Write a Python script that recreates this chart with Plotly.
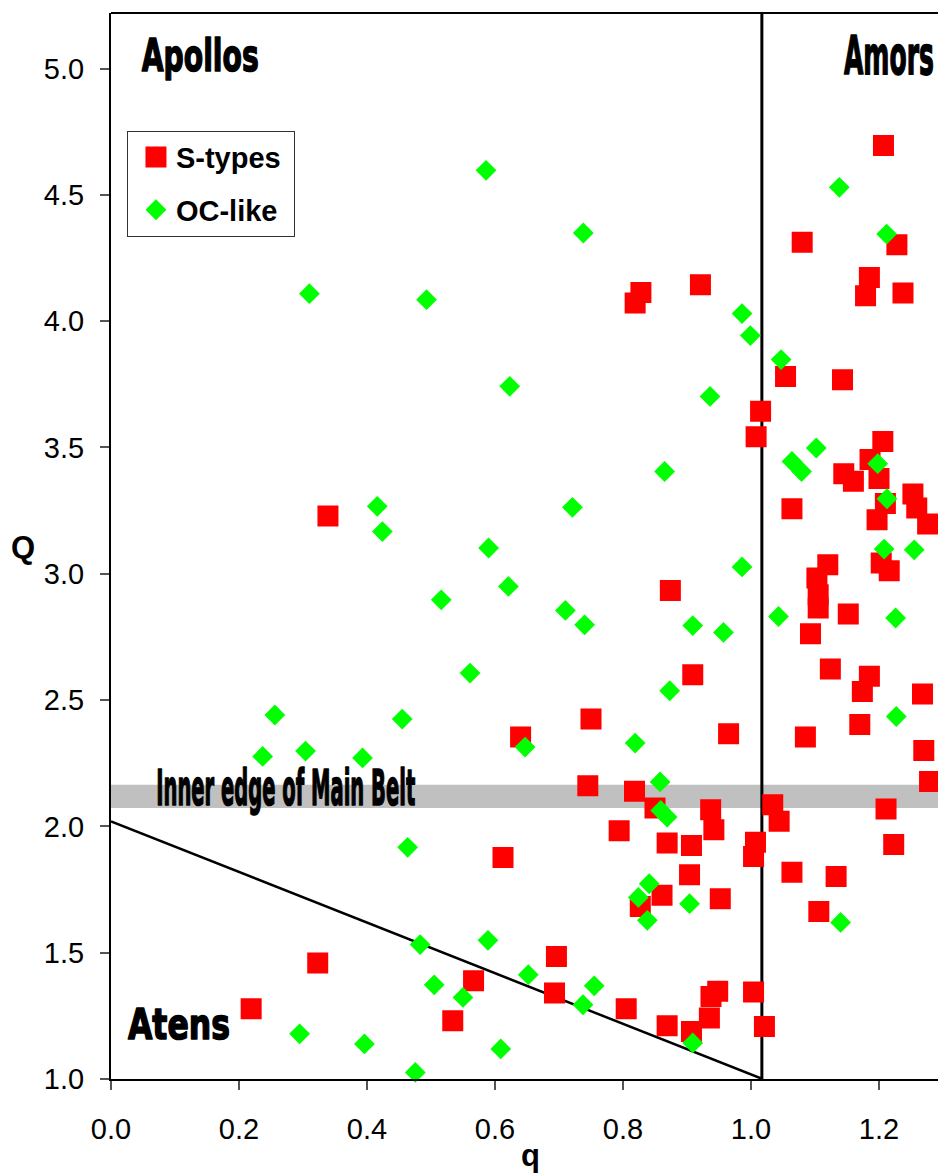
import json
import plotly.graph_objects as go

# Near-Earth asteroids: perihelion distance q (AU) and aphelion distance Q (AU)
s_q = [0.219, 0.323, 0.339, 0.534, 0.5665, 0.6125, 0.640, 0.693, 0.696, 0.745,
       0.750, 0.794, 0.805, 0.818, 0.819, 0.827, 0.828, 0.850, 0.861, 0.869,
       0.869, 0.874, 0.904, 0.907, 0.907, 0.909, 0.921, 0.935, 0.937, 0.9375,
       0.942, 0.948, 0.952, 0.965, 1.004, 1.004, 1.007, 1.008, 1.015, 1.021,
       1.034, 1.044, 1.054, 1.064, 1.064, 1.080, 1.085, 1.093, 1.103, 1.105,
       1.105, 1.106, 1.120, 1.124, 1.133, 1.143, 1.145, 1.152, 1.160, 1.170,
       1.174, 1.179, 1.185, 1.185, 1.186, 1.197, 1.200, 1.2035, 1.206, 1.207,
       1.210, 1.211, 1.216, 1.223, 1.228, 1.2375, 1.253, 1.259, 1.268, 1.270,
       1.276, 1.279]
s_Q = [1.278, 1.459, 3.229, 1.231, 1.389, 1.877, 2.354, 1.340, 1.485, 2.161,
       2.425, 1.983, 1.278, 2.139, 4.072, 1.683, 4.114, 2.073, 1.727, 1.934,
       1.211, 2.934, 1.809, 1.924, 1.188, 2.600, 4.144, 1.241, 2.066, 1.327,
       1.987, 1.347, 1.714, 2.367, 1.344, 1.881, 1.937, 3.542, 3.643, 1.208,
       2.086, 2.020, 3.781, 3.257, 1.818, 4.312, 2.354, 2.763, 2.983, 2.917,
       2.865, 1.663, 3.036, 2.623, 1.802, 3.768, 3.396, 2.841, 3.366, 2.403,
       2.534, 4.101, 4.173, 2.594, 3.452, 3.214, 3.377, 3.043, 3.524, 4.695,
       3.278, 2.069, 3.012, 1.928, 4.303, 4.112, 3.316, 3.260, 2.524, 2.300,
       3.197, 2.178]

oc_q = [0.237, 0.256, 0.2947, 0.304, 0.310, 0.393, 0.396, 0.416, 0.424, 0.455,
        0.4635, 0.4755, 0.483, 0.493, 0.505, 0.516, 0.550, 0.561, 0.586, 0.589,
        0.590, 0.609, 0.621, 0.623, 0.647, 0.652, 0.710, 0.721, 0.7375, 0.738,
        0.740, 0.755, 0.819, 0.824, 0.838, 0.841, 0.858, 0.859, 0.869, 0.865,
        0.873, 0.904, 0.909, 0.909, 0.936, 0.957, 0.986, 0.986, 0.999, 1.043,
        1.047, 1.064, 1.079, 1.102, 1.138, 1.140, 1.198, 1.208, 1.2125, 1.212,
        1.226, 1.227, 1.255]
oc_Q = [2.277, 2.441, 1.179, 2.298, 4.109, 2.271, 1.139, 3.267, 3.167, 2.425,
        1.917, 1.026, 1.532, 4.085, 1.373, 2.897, 1.323, 2.607, 4.597, 1.549,
        3.102, 1.119, 2.950, 3.742, 2.314, 1.413, 2.855, 3.263, 1.294, 4.349,
        2.798, 1.369, 2.330, 1.719, 1.628, 1.773, 2.176, 2.063, 2.037, 3.405,
        2.537, 1.694, 2.795, 1.143, 3.702, 2.768, 3.027, 4.030, 3.943, 2.831,
        3.848, 3.445, 3.405, 3.498, 4.530, 1.620, 3.436, 3.098, 3.297, 4.345,
        2.825, 2.435, 3.095]

x_ticks = [0.0, 0.2, 0.4, 0.6, 0.8, 1.0, 1.2]
y_ticks = [1.0, 1.5, 2.0, 2.5, 3.0, 3.5, 4.0, 4.5, 5.0]

X_RANGE = [0.0, 1.2922]
Y_RANGE = [1.0, 5.22]

EARTH_APHELION = 1.017          # Apollo / Amor divide
ATEN_LINE = [(0.0, 2.02), (1.018, 1.0)]   # a = 1 AU boundary
BELT_EDGE = (2.073, 2.165)      # inner edge of main belt band

TICK_FONT = dict(family="Liberation Sans, Arial, sans-serif", size=29, color="black")
HEAVY = "DejaVu Sans, sans-serif"

fig = go.Figure()

fig.add_trace(go.Scatter(
    x=s_q, y=s_Q, mode="markers", name="S-types\u00a0", legendgroup="s",
    cliponaxis=False,
    marker=dict(symbol="square", size=16, color="#FF0000",
                line=dict(color="#FF0000", width=5)),
))
fig.add_trace(go.Scatter(
    x=oc_q, y=oc_Q, mode="markers", name="OC-like", legendgroup="oc",
    cliponaxis=False,
    marker=dict(symbol="diamond", size=16, color="#00FF00",
                line=dict(width=0)),
))

shapes = [
    # main-belt inner edge band
    dict(type="rect", xref="paper", yref="y", x0=0, x1=1,
         y0=BELT_EDGE[0], y1=BELT_EDGE[1], fillcolor="#C0C0C0",
         line=dict(width=0), layer="below"),
    # Aten boundary
    dict(type="line", xref="x", yref="y",
         x0=ATEN_LINE[0][0], y0=ATEN_LINE[0][1],
         x1=ATEN_LINE[1][0], y1=ATEN_LINE[1][1],
         line=dict(color="black", width=2.5), layer="below"),
    # Earth's aphelion
    dict(type="line", xref="x", yref="paper",
         x0=EARTH_APHELION, x1=EARTH_APHELION, y0=0, y1=1,
         line=dict(color="black", width=3), layer="below"),
    # top frame
    dict(type="line", xref="paper", yref="paper", x0=0, x1=1, y0=1, y1=1,
         line=dict(color="black", width=2)),
]

# region labels: (text, q, Q, font size, condensed width in px)
region_labels = [
    ("Apollos", 0.1395, 5.050, 45, 117),
    ("Amors", 1.2150, 5.050, 54, 90),
    ("Atens", 0.1070, 1.216, 42, 102),
    ("Inner edge of Main Belt", 0.2731, 2.151, 49, 259),
]

annotations = []
label_widths = {}
for text, qx, Qy, size, width in region_labels:
    label_widths[len(annotations)] = width
    annotations.append(dict(
        text="<b>%s</b>" % text, x=qx, y=Qy, xref="x", yref="y",
        showarrow=False, xanchor="center", yanchor="middle",
        font=dict(family=HEAVY, size=size, color="black")))

annotations += [
    dict(text="<b>Q</b>", x=-0.1064, y=0.499, xref="paper", yref="paper",
         showarrow=False, xanchor="center", yanchor="middle",
         font=dict(family="Liberation Sans, Arial, sans-serif", size=31, color="black")),
    dict(text="<b>q</b>", x=0.5067, y=-0.072, xref="paper", yref="paper",
         showarrow=False, xanchor="center", yanchor="middle",
         font=dict(family="Liberation Sans, Arial, sans-serif", size=31, color="black")),
]

fig.update_layout(
    width=938, height=1175,
    margin=dict(l=111, r=0, t=13, b=96),
    paper_bgcolor="white", plot_bgcolor="white",
    shapes=shapes, annotations=annotations,
    showlegend=True,
    legend=dict(x=0.0193, y=0.8896, xanchor="left", yanchor="top",
                bgcolor="white", bordercolor="#333", borderwidth=1,
                font=dict(family="Liberation Sans, Arial, sans-serif", size=29,
                          color="black", weight="bold"),
                tracegroupgap=12, indentation=8),
    xaxis=dict(range=X_RANGE, tickvals=x_ticks, tickformat=".1f",
               ticks="outside", ticklen=9, tickwidth=1.5, tickcolor="#555",
               showline=True, linecolor="black", linewidth=2,
               showgrid=False, zeroline=False, tickfont=TICK_FONT,
               ticklabelstandoff=14),
    yaxis=dict(range=Y_RANGE, tickvals=y_ticks, tickformat=".1f",
               ticks="outside", ticklen=9, tickwidth=1.5, tickcolor="#555",
               showline=True, linecolor="black", linewidth=2,
               showgrid=False, zeroline=False, tickfont=TICK_FONT,
               ticklabelstandoff=10),
)

# squeeze the region labels horizontally into a narrow, heavy look
condense_js = """
var widths = %s;
document.querySelectorAll('g.annotation').forEach(function (g) {
  var i = g.getAttribute('data-index');
  if (!(i in widths)) return;
  var t = g.querySelector('text.annotation-text');
  if (!t) return;
  var w = t.getBBox().width;
  if (!w) return;
  t.style.stroke = 'black';
  t.style.strokeWidth = '1.6px';
  t.style.strokeLinejoin = 'round';
  t.style.paintOrder = 'stroke fill';
  t.style.transformBox = 'fill-box';
  t.style.transformOrigin = 'center';
  t.style.transform = 'scaleX(' + (widths[i] / w) + ')';
});
""" % json.dumps({str(k): v for k, v in label_widths.items()})

fig.write_html("out.html", post_script=condense_js)
